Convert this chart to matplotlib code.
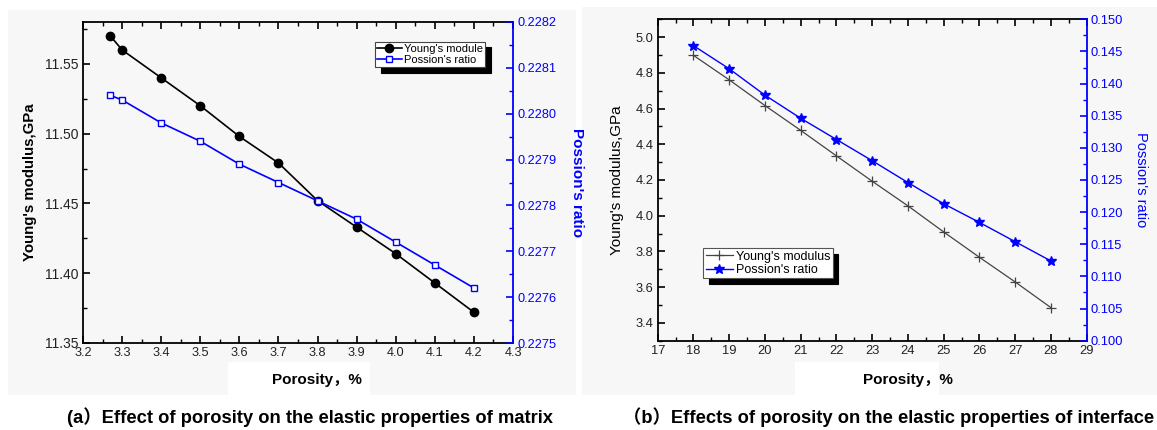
import matplotlib
matplotlib.use("Agg")
import matplotlib.pyplot as plt
from matplotlib.patches import Rectangle
from matplotlib.ticker import MultipleLocator, FormatStrFormatter

# ---------------- data ----------------
por_a = [3.27, 3.3, 3.4, 3.5, 3.6, 3.7, 3.8, 3.9, 4.0, 4.1, 4.2]
young_a = [11.570, 11.560, 11.540, 11.520, 11.498, 11.479, 11.452, 11.433, 11.414, 11.393, 11.372]
poisson_a = [0.22804, 0.22803, 0.22798, 0.22794, 0.22789, 0.22785, 0.22781, 0.22777, 0.22772, 0.22767, 0.22762]

por_b = [18, 19, 20, 21, 22, 23, 24, 25, 26, 27, 28]
young_b = [4.898, 4.761, 4.617, 4.478, 4.335, 4.193, 4.055, 3.909, 3.767, 3.629, 3.485]
poisson_b = [0.1459, 0.1423, 0.1382, 0.1346, 0.1313, 0.1280, 0.1246, 0.1213, 0.1184, 0.1154, 0.1124]

label_young_a = "Young's module"
label_young_b = "Young's modulus"
label_poisson = "Possion's ratio"
xlabel = "Porosity\uff0c%"
ylabel_left = "Young's modulus,GPa"
ylabel_right = "Possion's ratio"
caption_a = "(a\uff09Effect of porosity on the elastic properties of matrix"
caption_b = "\uff08b\uff09Effects of porosity on the elastic properties of interface"

FONT = ['Liberation Sans', 'Noto Sans CJK SC', 'DejaVu Sans']
plt.rcParams['font.family'] = FONT
plt.rcParams['axes.linewidth'] = 1.3

W, H = 1157, 430
fig = plt.figure(figsize=(W / 100, H / 100), dpi=100)
fig.patch.set_facecolor('white')
BG = '#f7f7f7'

def px_rect(x0, y0, x1, y1, color, z=-10):
    fig.patches.append(Rectangle((x0 / W, 1 - y1 / H), (x1 - x0) / W, (y1 - y0) / H,
                                 transform=fig.transFigure, facecolor=color,
                                 edgecolor='none', zorder=z))

# panel backgrounds
px_rect(8, 10, 576, 395, BG)
px_rect(582, 7, 1157, 395, BG)
# white boxes behind x labels
px_rect(228, 362, 370, 395, 'white', z=-9)
px_rect(795, 362, 939, 395, 'white', z=-9)

def axes_px(x0, y0, x1, y1):
    return fig.add_axes([x0 / W, 1 - y1 / H, (x1 - x0) / W, (y1 - y0) / H])

def style(ax, ax2, ylsize, xsize, rsize):
    ax.set_facecolor(BG)
    ax2.patch.set_visible(False)
    for s in ['left', 'top', 'bottom']:
        ax2.spines[s].set_visible(False)
    ax.spines['right'].set_visible(False)
    ax2.spines['right'].set_color('blue')
    ax.tick_params(which='both', direction='in', top=True, right=False,
                   colors='black', pad=3)
    ax.tick_params(axis='y', labelsize=ylsize)
    ax.tick_params(axis='x', labelsize=xsize)
    ax.tick_params(which='major', length=5, width=1.2)
    ax.tick_params(which='minor', length=3, width=1.0)
    ax2.tick_params(which='both', direction='in', colors='blue', labelsize=rsize, pad=3)
    ax2.tick_params(which='major', length=5, width=1.2)
    ax2.tick_params(which='minor', length=3, width=1.0)
    for t in ax.get_xticklabels() + ax.get_yticklabels():
        t.set_color('#222222')

# ---------------- panel (a) ----------------
ax = axes_px(83, 22, 513, 343)
ax2 = ax.twinx()
l1, = ax.plot(por_a, young_a, color='black', lw=1.2, marker='o', ms=6,
              mfc='black', mec='black', label=label_young_a)
l2, = ax2.plot(por_a, poisson_a, color='blue', lw=1.2, marker='s', ms=5,
               mfc='white', mec='blue', mew=1.0, label=label_poisson)
ax.set_xlim(3.2, 4.3)
ax.set_ylim(11.35, 11.58)
ax2.set_ylim(0.2275, 0.2282)
ax.xaxis.set_major_locator(MultipleLocator(0.1))
ax.xaxis.set_minor_locator(MultipleLocator(0.05))
ax.xaxis.set_major_formatter(FormatStrFormatter('%.1f'))
ax.yaxis.set_major_locator(MultipleLocator(0.05))
ax.yaxis.set_minor_locator(MultipleLocator(0.025))
ax.yaxis.set_major_formatter(FormatStrFormatter('%.2f'))
ax2.yaxis.set_major_locator(MultipleLocator(0.0001))
ax2.yaxis.set_minor_locator(MultipleLocator(0.00005))
ax2.yaxis.set_major_formatter(FormatStrFormatter('%.4f'))
style(ax, ax2, 10, 9.2, 9.2)
ax.set_ylabel(ylabel_left, fontsize=10.8, fontweight='bold', labelpad=6)
ax2.set_ylabel(ylabel_right, fontsize=11, fontweight='bold', color='blue',
               rotation=270, labelpad=20)
leg = ax2.legend([l1, l2], [label_young_a, label_poisson], loc='upper left',
                 bbox_to_anchor=(0.679, 0.938), fontsize=8, frameon=True,
                 fancybox=False, edgecolor='#444444', framealpha=1,
                 shadow={'color': 'black', 'alpha': 1, 'ox': 4, 'oy': -4},
                 handlelength=2.2, handletextpad=0.2, borderpad=0.2,
                 labelspacing=0.1, borderaxespad=0)
leg.get_frame().set_linewidth(0.8)

# ---------------- panel (b) ----------------
bx = axes_px(657.7, 19.3, 1086.7, 340.7)
bx2 = bx.twinx()
m1, = bx.plot(por_b, young_b, color='#444444', lw=0.9, marker='+', ms=7,
              mew=0.9, mec='#444444', label=label_young_b)
m2, = bx2.plot(por_b, poisson_b, color='blue', lw=1.0, marker='*', ms=7.5,
               mfc='blue', mec='blue', label=label_poisson)
bx.set_xlim(17, 29)
bx.set_ylim(3.3, 5.1)
bx2.set_ylim(0.100, 0.150)
bx.xaxis.set_major_locator(MultipleLocator(1))
bx.xaxis.set_minor_locator(MultipleLocator(0.5))
bx.yaxis.set_major_locator(MultipleLocator(0.2))
bx.yaxis.set_minor_locator(MultipleLocator(0.1))
bx.yaxis.set_major_formatter(FormatStrFormatter('%.1f'))
bx2.yaxis.set_major_locator(MultipleLocator(0.005))
bx2.yaxis.set_minor_locator(MultipleLocator(0.0025))
bx2.yaxis.set_major_formatter(FormatStrFormatter('%.3f'))
style(bx, bx2, 9.3, 9.3, 9.3)
bx.set_ylabel(ylabel_left, fontsize=11, labelpad=8)
bx2.set_ylabel(ylabel_right, fontsize=10.5, color='blue', rotation=270, labelpad=18)
leg2 = bx2.legend([m1, m2], [label_young_b, label_poisson], loc='upper left',
                  bbox_to_anchor=(0.1056, 0.288), fontsize=9, frameon=True,
                  fancybox=False, edgecolor='#555555', framealpha=1,
                  shadow={'color': 'black', 'alpha': 1, 'ox': 4, 'oy': -4},
                  handlelength=2.2, handletextpad=0.2, borderpad=0.2,
                  labelspacing=0.1, borderaxespad=0)
leg2.get_frame().set_linewidth(0.8)

# ---------------- x labels & captions ----------------
fig.text(317 / W, 1 - 380 / H, xlabel, ha='center', va='center',
         fontsize=11, fontweight='bold', family=FONT)
fig.text(908 / W, 1 - 380 / H, xlabel, ha='center', va='center',
         fontsize=11, fontweight='bold', family=FONT)
fig.text(310 / W, 1 - 417 / H, caption_a, ha='center', va='center',
         fontsize=13.2, fontweight='bold', family=FONT)
fig.text(889 / W, 1 - 417 / H, caption_b, ha='center', va='center',
         fontsize=13.2, fontweight='bold', family=FONT)

fig.savefig('out.png', dpi=100, facecolor='white')
